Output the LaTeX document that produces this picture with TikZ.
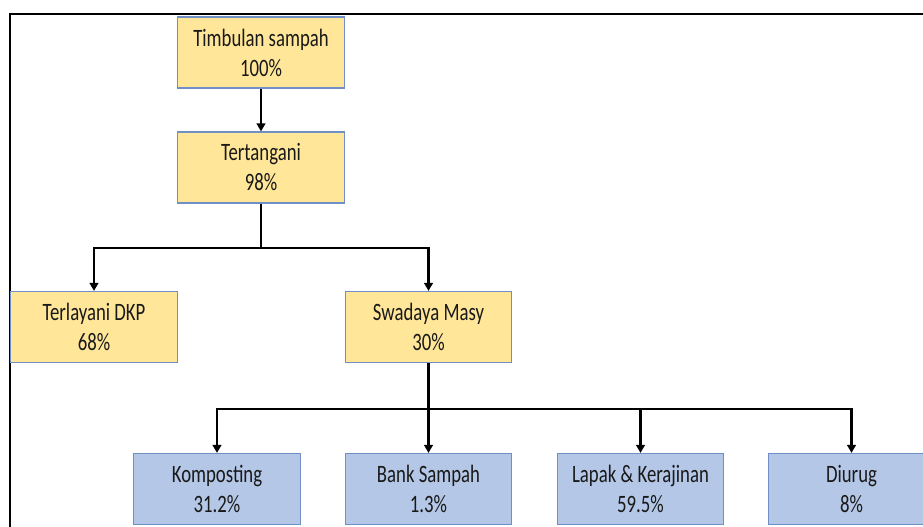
\documentclass[tikz,border=0pt]{standalone}
\usepackage{fontspec}
\setmainfont{Carlito}[FakeStretch=0.75]
\usepackage{tikz}
\usetikzlibrary{arrows.meta}
\definecolor{tsyellow}{HTML}{FFE699}
\definecolor{tsblue}{HTML}{B4C7E7}
\definecolor{tsedge}{HTML}{6F8FC6}

\begin{document}
\begin{tikzpicture}[x=0.75pt,y=-0.75pt,
    box/.style={draw=tsedge,line width=0.9pt,minimum width=125pt,minimum height=53.25pt,
      align=center,inner sep=0pt,text=black!90,font=\fontsize{18.75pt}{22.5pt}\selectfont},
    topbox/.style={box,fill=tsyellow},
    lowbox/.style={box,fill=tsblue},
    link/.style={line width=2.1pt,-{Triangle[width=6.5pt,length=6pt]}}]
    \useasboundingbox(0,0)rectangle(923,527);
    \clip(0,0)rectangle(923,527);
    % frame of the slide
    \draw[line width=1.7pt](10,540)--(10,14)--(940,14);
    % upper levels
    \node[topbox](timb)at(261,52.5){Timbulan sampah\\100\%};
    \node[topbox](tert)at(261,167.5){Tertangani\\98\%};
    \node[topbox](dkp)at(94,327){Terlayani DKP\\68\%};
    \node[topbox](swa)at(428.5,327){Swadaya Masy\\30\%};
    % lower level
    \node[lowbox](komp)at(217,489){Komposting\\31.2\%};
    \node[lowbox](bank)at(428.5,489){Bank Sampah\\1.3\%};
    \node[lowbox](lapak)at(640.5,489){Lapak \& Kerajinan\\59.5\%};
    \node[lowbox](diur)at(851.5,489){Diurug\\8\%};
    \coordinate(busA)at(261,248);
    \coordinate(busB)at(428.5,409);
    % connectors
    \draw[link](timb)--(tert);
    \draw[link](tert.south)--(busA)-|(dkp.north);
    \draw[link](tert.south)--(busA)-|(swa.north);
    \draw[line width=2.1pt](swa.south)--(busB);
    \foreach \n in {komp,bank,lapak,diur}\draw[link](busB)-|(\n.north);
\end{tikzpicture}
\end{document}
